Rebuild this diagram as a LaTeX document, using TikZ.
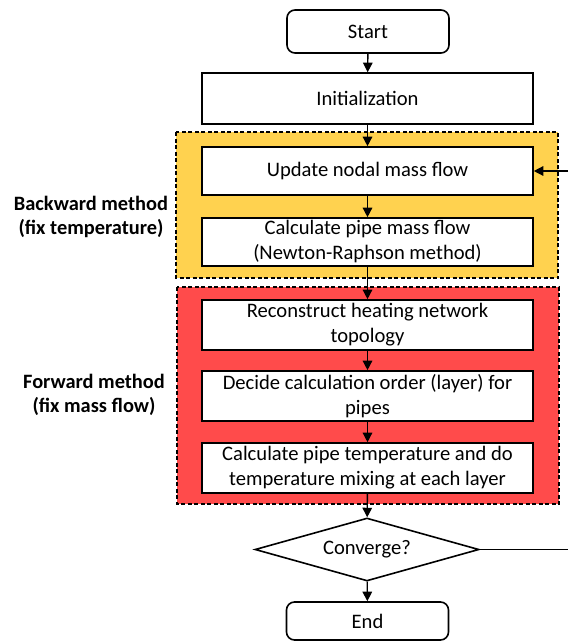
\documentclass[tikz,border=0pt]{standalone}
\usepackage{fontspec}
\setmainfont{Carlito}
\usetikzlibrary{shapes.geometric,arrows.meta}
\definecolor{backfill}{HTML}{FFD24F}
\definecolor{forefill}{HTML}{FF4B4B}
\begin{document}
\begin{tikzpicture}[x=1pt,y=-1pt,
  every node/.style={font=\fontsize{20.6}{25}\selectfont, align=center, inner sep=0pt},
  procbox/.style={draw=black, line width=1.6pt, fill=white, minimum width=331pt},
  termbox/.style={draw=black, line width=1.6pt, fill=white, rounded corners=8pt, minimum width=162pt},
  decbox/.style={draw=black, line width=1.6pt, fill=white, diamond, aspect=3.55, minimum width=224pt, minimum height=63pt},
  stage/.style={draw=black, line width=1.2pt, dash pattern=on 4pt off 2.5pt},
  grouplabel/.style={font=\bfseries\fontsize{20.4}{24.5}\selectfont},
  flow/.style={line width=1.4pt, -{Triangle[length=9.5pt,width=9.5pt]}},
  link/.style={line width=1.4pt}]
\useasboundingbox (0,0) rectangle (568,642);

% stage backgrounds
\draw[stage, fill=backfill] (176,132) rectangle (558,278);
\draw[stage, fill=forefill] (177,287) rectangle (559,504);

% stage labels
\node[grouplabel] (lblback) at (91,217) {Backward method\\(fix temperature)};
\node[grouplabel] (lblfwd) at (94,395) {Forward method\\(fix mass flow)};

% flow steps
\node[termbox, minimum height=43pt] (start) at (368,31.5) {Start};
\node[procbox, minimum height=51pt] (init) at (367.5,98.5) {Initialization};
\node[procbox, minimum height=48pt] (upd) at (367.5,171) {Update nodal mass flow};
\node[procbox, minimum height=48pt] (pmf) at (367.5,242) {Calculate pipe mass flow\\(Newton-Raphson method)};
\node[procbox, minimum height=50pt] (recon) at (367.5,325) {Reconstruct heating network\\topology};
\node[procbox, minimum height=50pt] (order) at (367.5,396) {Decide calculation order (layer) for\\pipes};
\node[procbox, minimum height=50pt] (ptemp) at (367.5,468) {Calculate pipe temperature and do\\temperature mixing at each layer};
\node[decbox] (conv) at (367,549.5) {Converge?};
\node[termbox, minimum height=38pt] (finish) at (367.5,621) {End};

% connectors
\draw[flow] (start) -- (init);
\draw[flow] (init) -- (upd);
\draw[flow] (upd) -- (pmf);
\draw[flow] (pmf) -- (recon);
\draw[flow] (recon) -- (order);
\draw[flow] (order) -- (ptemp);
\draw[flow] (ptemp) -- (conv);
\draw[flow] (conv) -- (finish);

% loop back when not converged
\coordinate (loopout) at (568,549.5);
\coordinate (loopin) at (568,171);
\draw[link] (conv.east) -- (loopout);
\draw[flow] (loopin) -- (upd.east);
\end{tikzpicture}
\end{document}
